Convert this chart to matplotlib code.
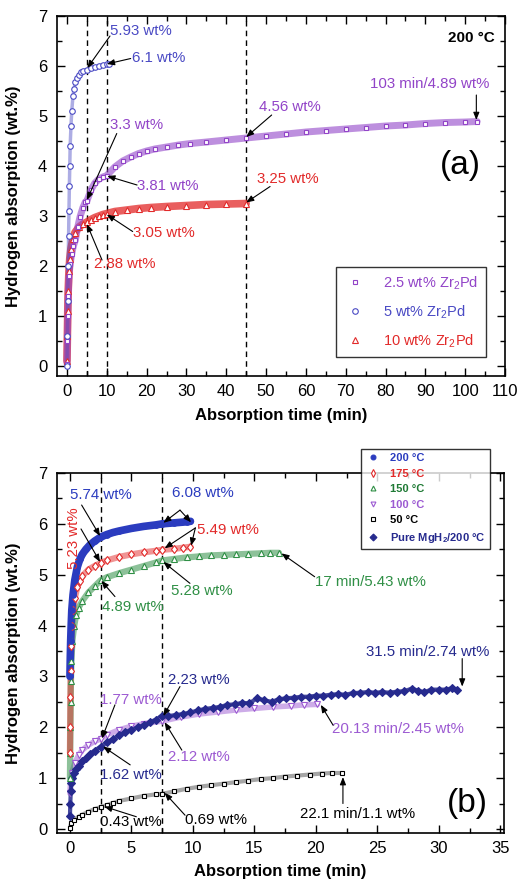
import matplotlib
matplotlib.use("Agg")
import matplotlib.pyplot as plt
from matplotlib.lines import Line2D
from matplotlib.ticker import MultipleLocator

plt.rcParams["font.family"] = ["Liberation Sans", "DejaVu Sans"]
plt.rcParams["mathtext.fontset"] = "custom"
plt.rcParams["mathtext.rm"] = "Liberation Sans"
plt.rcParams["mathtext.bf"] = "Liberation Sans:bold"

# (a) 200 °C, different Zr2Pd loadings
t_25 = [0, 0.1, 0.2, 0.3, 0.5, 0.8, 1.2, 1.6, 2.1, 2.7, 3.3, 4.0, 4.6, 5.0, 6, 7, 8, 9,
        10, 12, 14, 16, 18, 20, 22, 25, 28, 31, 35, 40, 45, 50, 55, 60, 65, 70, 75,
        80, 85, 90, 95, 100, 103]
h_25 = [0.05, 0.5, 1.0, 1.4, 1.8, 2.05, 2.25, 2.4, 2.52, 2.78, 2.99, 3.17, 3.28, 3.3,
        3.52, 3.66, 3.74, 3.78, 3.81, 3.98, 4.1, 4.18, 4.25, 4.3, 4.34, 4.38, 4.42,
        4.45, 4.48, 4.52, 4.56, 4.6, 4.64, 4.68, 4.71, 4.74, 4.77, 4.8, 4.82, 4.85,
        4.87, 4.88, 4.89]

t_5 = [0, 0.1, 0.2, 0.3, 0.4, 0.5, 0.6, 0.7, 0.8, 1.0, 1.2, 1.5, 1.8, 2.1, 2.5, 3.0,
       3.5, 4.0, 5.0, 6.0, 7.0, 8.0, 9.0, 10.0, 10.5]
h_5 = [0.0, 0.6, 1.3, 2.0, 2.6, 3.1, 3.6, 4.0, 4.4, 4.8, 5.1, 5.4, 5.55, 5.68, 5.77,
       5.83, 5.88, 5.9, 5.93, 5.96, 5.98, 6.0, 6.02, 6.04, 6.05]

t_10 = [0, 0.1, 0.2, 0.3, 0.5, 0.7, 1.0, 1.5, 2, 3, 4, 5, 6, 7, 8, 9, 10, 12, 15, 18,
        21, 25, 30, 35, 40, 45]
h_10 = [0.1, 0.6, 1.1, 1.5, 1.9, 2.15, 2.35, 2.55, 2.67, 2.78, 2.84, 2.88, 2.93, 2.97,
        3.0, 3.03, 3.05, 3.09, 3.12, 3.15, 3.17, 3.19, 3.21, 3.23, 3.24, 3.25]

# (b) temperature series
t_200 = [0, 0.03, 0.06, 0.1, 0.15, 0.25, 0.4, 0.6, 0.8, 1.0, 1.3, 1.6, 2.0, 2.5, 3.0,
         3.5, 4, 5, 6, 7, 7.5, 8, 8.5, 9, 9.5, 9.8]
h_200 = [3.0, 3.4, 3.7, 4.0, 4.3, 4.6, 4.9, 5.15, 5.3, 5.4, 5.5, 5.58, 5.66, 5.74,
         5.79, 5.83, 5.86, 5.91, 5.95, 5.98, 6.0, 6.01, 6.02, 6.03, 6.04, 6.05]

t_175 = [0, 0.02, 0.04, 0.06, 0.1, 0.15, 0.25, 0.4, 0.6, 0.8, 1.0, 1.5, 2.0, 2.5, 3,
         4, 5, 6, 7, 7.5, 8.5, 9.2, 9.8]
h_175 = [1.5, 2.0, 2.6, 3.1, 3.6, 4.0, 4.3, 4.55, 4.75, 4.88, 4.97, 5.1, 5.17, 5.23,
         5.28, 5.35, 5.4, 5.44, 5.47, 5.49, 5.51, 5.53, 5.55]

t_150 = [0, 0.02, 0.04, 0.06, 0.08, 0.12, 0.2, 0.35, 0.5, 0.7, 1.0, 1.5, 2.0, 2.5, 3,
         4, 5, 6, 7, 7.5, 8.5, 9.5, 10.5, 11.5, 12.5, 13.5, 14.5, 15.5, 16.3, 17]
h_150 = [1.0, 1.5, 2.0, 2.5, 2.9, 3.3, 3.7, 4.0, 4.2, 4.35, 4.48, 4.65, 4.77, 4.89,
         4.95, 5.03, 5.1, 5.17, 5.24, 5.28, 5.31, 5.34, 5.36, 5.38, 5.39, 5.4, 5.41,
         5.42, 5.43, 5.43]

t_100 = [0, 0.05, 0.15, 0.4, 0.7, 1.0, 1.5, 2, 2.5, 3, 4, 5, 6, 7.5, 9, 10.5, 12, 13.5,
         15, 16.5, 18, 19, 20.13]
h_100 = [0.7, 0.9, 1.1, 1.3, 1.45, 1.55, 1.65, 1.72, 1.77, 1.85, 1.95, 2.02, 2.07,
         2.12, 2.2, 2.26, 2.3, 2.34, 2.37, 2.4, 2.42, 2.44, 2.45]

t_50 = [0, 0.1, 0.3, 0.7, 1.0, 1.5, 2.0, 2.5, 3, 3.5, 4, 5, 6, 7, 7.5, 8.5, 9.5, 10.5,
        11.5, 12.5, 13.5, 14.5, 15.5, 16.5, 17.5, 18.5, 19.5, 20.5, 21.3, 22.1]
h_50 = [0.02, 0.12, 0.18, 0.24, 0.28, 0.34, 0.39, 0.43, 0.47, 0.51, 0.55, 0.6, 0.65,
        0.68, 0.69, 0.74, 0.79, 0.83, 0.86, 0.89, 0.92, 0.95, 0.98, 1.0, 1.03, 1.05,
        1.07, 1.09, 1.1, 1.1]

t_pure = [0, 0.03, 0.07, 0.12, 0.2, 0.35, 0.5, 0.7, 1.0, 1.3, 1.6, 2.0, 2.5, 3.0, 3.5,
          4.0, 4.5, 5.0, 5.5, 6.0, 6.5, 7.0, 7.5, 8.0, 8.6, 9.2, 9.8, 10.4, 11.0, 11.6,
          12.2, 12.8, 13.4, 14.0, 14.6, 15.2, 15.8, 16.4, 17.0, 17.6, 18.2, 18.8, 19.4,
          20.0, 20.6, 21.2, 21.8, 22.4, 23.0, 23.6, 24.2, 24.8, 25.4, 26.0, 26.6, 27.2,
          27.8, 28.3, 28.8, 29.4, 30.0, 30.6, 31.1, 31.5]
h_pure = [0.25, 0.5, 0.75, 0.9, 1.0, 1.1, 1.17, 1.24, 1.33, 1.4, 1.47, 1.54, 1.62, 1.7,
          1.77, 1.84, 1.9, 1.95, 2.0, 2.04, 2.1, 2.15, 2.23, 2.22, 2.24, 2.26, 2.29,
          2.33, 2.36, 2.38, 2.4, 2.44, 2.45, 2.48, 2.47, 2.57, 2.53, 2.5, 2.55, 2.57,
          2.58, 2.6, 2.6, 2.62, 2.62, 2.64, 2.65, 2.64, 2.67, 2.68, 2.69, 2.68, 2.69,
          2.68, 2.7, 2.71, 2.76, 2.72, 2.69, 2.74, 2.74, 2.74, 2.77, 2.74]

PURPLE = "#9244c8"
BLUE = "#4a4ac4"
RED = "#e22a2a"
BLUE200 = "#2b3cbf"
GREEN = "#2f8f45"
VIOLET = "#9c5ad2"
NAVY = "#262a8e"

ANN = 10.8


def style_axes(ax, xmaj, xmin):
    ax.xaxis.set_major_locator(MultipleLocator(xmaj))
    ax.xaxis.set_minor_locator(MultipleLocator(xmin))
    ax.yaxis.set_major_locator(MultipleLocator(1))
    ax.yaxis.set_minor_locator(MultipleLocator(0.5))
    ax.tick_params(which="both", direction="in", top=True, right=True, labelsize=12)
    ax.tick_params(which="major", length=6, width=1)
    ax.tick_params(which="minor", length=3.5, width=1)
    ax.tick_params(axis="y", pad=7)
    ax.tick_params(axis="x", pad=6)
    for s in ax.spines.values():
        s.set_linewidth(1.2)
    ax.set_ylabel("Hydrogen absorption (wt.%)", fontsize=12, fontweight="bold")
    ax.set_xlabel("Absorption time (min)", fontsize=12, fontweight="bold")


def series(ax, t, h, color, marker, ms=4, filled=False, lw=4, alpha=0.55):
    ax.plot(t, h, color=color, lw=lw, alpha=alpha, solid_capstyle="round", zorder=2)
    ax.plot(t, h, ls="none", marker=marker, ms=ms, mew=0.8, color=color,
            mfc=color if filled else "white", zorder=3)


def arrow(ax, start, end):
    ax.annotate("", xy=end, xytext=start,
                arrowprops=dict(arrowstyle="-|>,head_length=0.45,head_width=0.18",
                                color="black", lw=0.8, shrinkA=0, shrinkB=0))


fig = plt.figure(figsize=(5.17, 8.80), dpi=100)

# ---------------- panel (a) ----------------
ax1 = fig.add_axes([0.1103, 0.5727, 0.8665, 0.4091])
for xv in (5, 10, 45):
    ax1.axvline(xv, color="black", lw=1, ls=(0, (4, 3)), zorder=1)
series(ax1, t_10, h_10, RED, "^", ms=4.5, lw=5.5, alpha=0.75)
series(ax1, t_25, h_25, PURPLE, "s", ms=3.5, lw=5, alpha=0.6)
series(ax1, t_5, h_5, BLUE, "o", ms=4, lw=2.5, alpha=0.45)
ax1.set_xlim(-2.5, 110)
ax1.set_ylim(-0.2, 7)
style_axes(ax1, 10, 5)
ax1.yaxis.set_label_coords(-0.080, 0.5)
ax1.xaxis.set_label_coords(0.5, -0.089)
ax1.xaxis.label.set_va("top")

ax1.text(10.9, 6.70, "5.93 wt%", color=BLUE, fontsize=ANN, va="center")
arrow(ax1, (10.8, 6.6), (5.1, 5.96))
ax1.text(16.3, 6.17, "6.1 wt%", color=BLUE, fontsize=ANN, va="center")
arrow(ax1, (16.0, 6.15), (10.0, 6.04))
ax1.text(10.9, 4.82, "3.3 wt%", color=PURPLE, fontsize=ANN, va="center")
arrow(ax1, (12.5, 4.65), (5.0, 3.32))
ax1.text(17.6, 3.60, "3.81 wt%", color=PURPLE, fontsize=ANN, va="center")
arrow(ax1, (17.6, 3.62), (10.1, 3.8))
ax1.text(48.1, 5.19, "4.56 wt%", color=PURPLE, fontsize=ANN, va="center")
arrow(ax1, (51.4, 5.02), (45.0, 4.58))
ax1.text(76.1, 5.65, "103 min/4.89 wt%", color=PURPLE, fontsize=ANN, va="center")
arrow(ax1, (102.8, 5.42), (102.8, 4.92))
ax1.text(47.7, 3.75, "3.25 wt%", color=RED, fontsize=ANN, va="center")
arrow(ax1, (51.0, 3.59), (45.0, 3.27))
ax1.text(16.5, 2.66, "3.05 wt%", color=RED, fontsize=ANN, va="center")
arrow(ax1, (16.5, 2.69), (10.0, 3.03))
ax1.text(6.7, 2.05, "2.88 wt%", color=RED, fontsize=ANN, va="center")
arrow(ax1, (8.8, 2.12), (5.0, 2.84))
ax1.text(107.5, 6.57, "200 °C", fontsize=11, fontweight="bold", ha="right", va="center")
ax1.text(98.7, 4.02, "(a)", fontsize=24, ha="center", va="center")

handles_a = [
    Line2D([], [], ls="none", marker="s", ms=3.5, mew=0.8, color=PURPLE, mfc="white"),
    Line2D([], [], ls="none", marker="o", ms=4, mew=0.8, color=BLUE, mfc="white"),
    Line2D([], [], ls="none", marker="^", ms=4.5, mew=0.8, color=RED, mfc="white"),
]
labels_a = [r"2.5 wt% Zr$_\mathrm{2}$Pd", r"5 wt% Zr$_\mathrm{2}$Pd", r"10 wt% Zr$_\mathrm{2}$Pd"]
leg = ax1.legend(handles_a, labels_a, loc="lower right", bbox_to_anchor=(0.973, 0.033),
                 fontsize=10.5, frameon=True, fancybox=False, edgecolor="black",
                 labelspacing=0.75, handlelength=1.5, handletextpad=1.2, borderpad=0.5)
leg.get_frame().set_linewidth(1)
for txt, c in zip(leg.get_texts(), (PURPLE, BLUE, RED)):
    txt.set_color(c)

# ---------------- panel (b) ----------------
ax2 = fig.add_axes([0.1103, 0.0534, 0.8646, 0.4091])
for xv in (2.5, 7.5):
    ax2.axvline(xv, color="black", lw=1, ls=(0, (4, 3)), zorder=1)
series(ax2, t_50, h_50, "black", "s", ms=3.5, lw=3, alpha=0.35)
series(ax2, t_100, h_100, VIOLET, "v", ms=4, lw=4, alpha=0.5)
series(ax2, t_pure, h_pure, NAVY, "D", ms=3.8, filled=True, lw=3, alpha=0.85)
series(ax2, t_150, h_150, GREEN, "^", ms=4, lw=4.5, alpha=0.55)
series(ax2, t_175, h_175, RED, "d", ms=4.5, lw=4.5, alpha=0.5)
series(ax2, t_200, h_200, BLUE200, "o", ms=4, filled=True, lw=5.5, alpha=1.0)
ax2.set_xlim(-1.05, 35.3)
ax2.set_ylim(-0.08, 7)
style_axes(ax2, 5, 2.5)
ax2.yaxis.set_label_coords(-0.081, 0.5)
ax2.xaxis.set_label_coords(0.5, -0.087)
ax2.xaxis.label.set_va("top")

ax2.text(0.0, 6.57, "5.74 wt%", color=BLUE200, fontsize=ANN, va="center")
arrow(ax2, (0.95, 6.37), (2.45, 5.76))
ax2.text(0.33, 5.71, "5.23 wt%", color=RED, fontsize=ANN, va="center", ha="center",
         rotation=90)
arrow(ax2, (0.9, 5.9), (2.45, 5.25))
ax2.text(8.33, 6.60, "6.08 wt%", color=BLUE200, fontsize=ANN, va="center")
arrow(ax2, (8.95, 6.27), (7.6, 6.02))
arrow(ax2, (8.95, 6.27), (9.85, 6.03))
ax2.text(10.3, 5.88, "5.49 wt%", color=RED, fontsize=ANN, va="center")
arrow(ax2, (10.2, 5.92), (7.7, 5.52))
arrow(ax2, (10.2, 5.92), (9.85, 5.57))
ax2.text(8.2, 4.67, "5.28 wt%", color=GREEN, fontsize=ANN, va="center")
arrow(ax2, (9.76, 4.83), (7.6, 5.25))
ax2.text(2.58, 4.37, "4.89 wt%", color=GREEN, fontsize=ANN, va="center")
arrow(ax2, (3.66, 4.57), (2.55, 4.88))
ax2.text(19.9, 4.86, "17 min/5.43 wt%", color=GREEN, fontsize=ANN, va="center")
arrow(ax2, (19.9, 4.96), (17.2, 5.42))
ax2.text(24.1, 3.47, "31.5 min/2.74 wt%", color=NAVY, fontsize=ANN, va="center")
arrow(ax2, (31.9, 3.35), (31.9, 2.8))
ax2.text(8.0, 2.93, "2.23 wt%", color=NAVY, fontsize=ANN, va="center")
arrow(ax2, (8.95, 2.8), (7.6, 2.22))
ax2.text(2.44, 2.54, "1.77 wt%", color=VIOLET, fontsize=ANN, va="center")
arrow(ax2, (3.66, 2.44), (2.6, 1.78))
ax2.text(21.3, 1.97, "20.13 min/2.45 wt%", color=VIOLET, fontsize=ANN, va="center")
arrow(ax2, (21.4, 2.04), (20.4, 2.44))
ax2.text(8.0, 1.42, "2.12 wt%", color=VIOLET, fontsize=ANN, va="center")
arrow(ax2, (9.1, 1.55), (7.7, 2.1))
ax2.text(2.44, 1.06, "1.62 wt%", color=NAVY, fontsize=ANN, va="center")
arrow(ax2, (4.9, 1.26), (2.7, 1.62))
ax2.text(2.44, 0.14, "0.43 wt%", color="black", fontsize=ANN, va="center")
arrow(ax2, (5.4, 0.24), (2.8, 0.44))
ax2.text(9.36, 0.18, "0.69 wt%", color="black", fontsize=ANN, va="center")
arrow(ax2, (9.36, 0.27), (7.7, 0.71))
ax2.text(18.7, 0.29, "22.1 min/1.1 wt%", color="black", fontsize=ANN, va="center")
arrow(ax2, (22.2, 0.5), (22.2, 1.02))
ax2.text(32.3, 0.51, "(b)", fontsize=24, ha="center", va="center")

handles_b = [
    Line2D([], [], ls="none", marker="o", ms=3.5, mew=0.8, color=BLUE200, mfc=BLUE200),
    Line2D([], [], ls="none", marker="d", ms=4, mew=0.8, color=RED, mfc="white"),
    Line2D([], [], ls="none", marker="^", ms=3.5, mew=0.8, color=GREEN, mfc="white"),
    Line2D([], [], ls="none", marker="v", ms=3.5, mew=0.8, color=VIOLET, mfc="white"),
    Line2D([], [], ls="none", marker="s", ms=3, mew=0.8, color="black", mfc="white"),
    Line2D([], [], ls="none", marker="D", ms=3.5, mew=0.8, color=NAVY, mfc=NAVY),
]
labels_b = ["200 °C", "175 °C", "150 °C", "100 °C", "50 °C",
            r"Pure MgH$_\mathbf{2}$/200 °C"]
leg2 = ax2.legend(handles_b, labels_b, loc="upper right", bbox_to_anchor=(0.982, 1.083),
                  prop={"size": 8, "weight": "bold"}, frameon=True, fancybox=False,
                  edgecolor="black", labelspacing=0.5, handlelength=1.2,
                  handletextpad=1.0, borderpad=0.4)
leg2.get_frame().set_linewidth(1)
leg2.set_zorder(10)
for txt, c in zip(leg2.get_texts(), (BLUE200, RED, "#1f7a35", VIOLET, "black", NAVY)):
    txt.set_color(c)

fig.savefig("out.png", dpi=100)
